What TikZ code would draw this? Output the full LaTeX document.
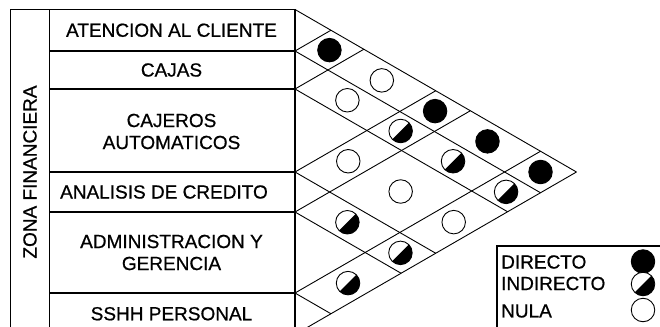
\documentclass[tikz,border=0pt]{standalone}
\usepackage{fontspec}
\setmainfont{Liberation Sans}
\newfontfamily\diagfont[FakeBold=0.7]{Liberation Sans}
\usetikzlibrary{positioning}

\begin{document}
\begin{tikzpicture}[
    x=1pt, y=-1pt,
    every node/.style={align=center, font=\diagfont\fontsize{19}{22}\selectfont}
]

\tikzset{
    tableline/.style={draw=black, line width=1.3pt},
    diagline/.style={draw=black, line width=0.9pt},
    rowlabel/.style={inner sep=0pt},
    zonelabel/.style={rotate=90, inner sep=0pt},
    legendtext/.style={anchor=west, inner sep=0pt},
    directo/.style={circle, draw=black, line width=0.9pt, fill=black, minimum size=23.5pt, inner sep=0pt},
    nula/.style={circle, draw=black, line width=0.9pt, fill=white, minimum size=23.5pt, inner sep=0pt},
    indirecto/.style={circle, draw=black, line width=0.9pt, fill=white, minimum size=23.5pt, inner sep=0pt,
        path picture={
            \fill[black] (path picture bounding box.south west) -- (path picture bounding box.north east)
                -- (path picture bounding box.south east) -- cycle;
        }}
}

\useasboundingbox (0,0) rectangle (660,326);
\clip (0,0) rectangle (660,326);

% table frame
\draw[tableline] (10.7,334.5) -- (10.7,9.5) -- (295,9.5) -- (295,334.5);
\draw[tableline] (49.5,9.5) -- (49.5,334.5);
\foreach \b in {51,89,172,212,293,334.5}
    \draw[tableline] (49.5,\b) -- (295,\b);

% row labels
\node[zonelabel] (zona) at (30,172) {ZONA FINANCIERA};
\node[rowlabel] (atencion) at (171.5,30.25) {ATENCION AL CLIENTE};
\node[rowlabel] (cajas) at (171.5,70) {CAJAS};
\node[rowlabel] (cajeros) at (171.5,131.5) {CAJEROS\\AUTOMATICOS};
\node[rowlabel] (credito) at (164,192) {ANALISIS DE CREDITO};
\node[rowlabel] (gerencia) at (171.5,252.5) {ADMINISTRACION Y\\GERENCIA};
\node[rowlabel] (sshh) at (171.5,313.75) {SSHH PERSONAL};

% diagonal grid
\foreach \b in {9.5,51,89,172,212,293,334.5} {
    \draw[diagline] (295,\b) -- ({295+0.866*(334.5-\b)},{(\b+334.5)/2});
    \draw[diagline] (295,\b) -- ({295+0.866*(\b-9.5)},{(\b+9.5)/2});
}

% relations
\foreach \ma/\mb/\kind [count=\k] in {
    30.25/70/directo, 30.25/130.5/nula, 70/130.5/nula,
    30.25/192/directo, 70/192/indirecto, 30.25/252.5/directo,
    130.5/192/nula, 70/252.5/indirecto, 30.25/313.75/directo,
    130.5/252.5/nula, 70/313.75/indirecto, 192/252.5/indirecto,
    130.5/313.75/nula, 192/313.75/indirecto, 252.5/313.75/indirecto}
    \node[\kind] (rel\k) at ({295+0.866*(\mb-\ma)},{(\ma+\mb)/2}) {};

% legend
\draw[tableline] (497,400) -- (497,246) -- (700,246);
\node[legendtext] (ldirecto) at (501,262) {DIRECTO};
\node[legendtext] (lindirecto) at (501,283.5) {INDIRECTO};
\node[legendtext] (lnula) at (501,311) {NULA};
\node[directo] (sdirecto) at (643,261.5) {};
\node[indirecto] (sindirecto) at (643,284) {};
\node[nula] (snula) at (643,310) {};

\end{tikzpicture}
\end{document}
